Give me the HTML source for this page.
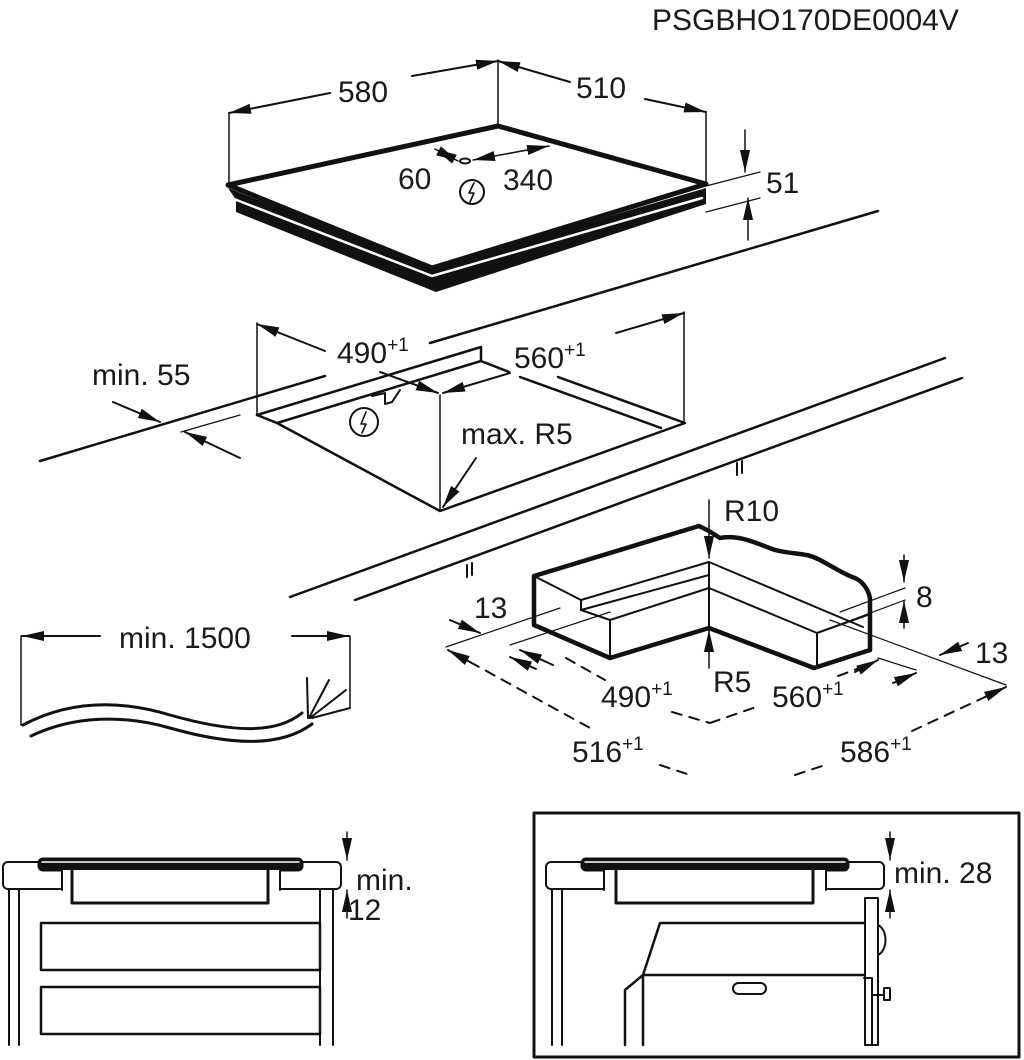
<!DOCTYPE html>
<html><head><meta charset="utf-8"><style>
html,body{margin:0;padding:0;background:#fff;}
svg{display:block}
text{font-family:"Liberation Sans",sans-serif;fill:#1a1a1a;font-size:30px;}
</style></head><body>
<svg width="1024" height="1060" viewBox="0 0 1024 1060" xmlns="http://www.w3.org/2000/svg">
<defs>
<marker id="a" viewBox="0 0 10 10" refX="10" refY="5" markerWidth="22" markerHeight="22" markerUnits="userSpaceOnUse" orient="auto-start-reverse"><path d="M0,2.7 L10,5 L0,7.3z" fill="#111"/></marker>
</defs>
<g stroke="#111" fill="none" stroke-linecap="round" stroke-linejoin="round">
<text x="652" y="30" stroke="none" font-size="31">PSGBHO170DE0004V</text>

<!-- top hob -->
<line x1="229" y1="113" x2="229" y2="187" stroke-width="1.5"/>
<line x1="498" y1="60" x2="498" y2="125" stroke-width="1.5"/>
<line x1="706" y1="112" x2="706" y2="185" stroke-width="1.5"/>
<line x1="330" y1="93" x2="229" y2="113" stroke-width="2" marker-end="url(#a)"/>
<line x1="412" y1="76" x2="498" y2="61" stroke-width="2" marker-end="url(#a)"/>
<line x1="570" y1="82" x2="498" y2="61" stroke-width="2" marker-end="url(#a)"/>
<line x1="645" y1="99" x2="706" y2="112" stroke-width="2" marker-end="url(#a)"/>
<text x="338" y="102" stroke="none">580</text>
<text x="576" y="98" stroke="none">510</text>
<path d="M228,188 L432,268 L706,188 L706,204 L436,292 L236,212 L236,200z" fill="#111" stroke="none"/>
<path d="M234,199 L432,276 L702,198" stroke="#fff" stroke-width="2.5"/>
<path d="M228,185 L498,126 L706,184 L432,268z" fill="#fff" stroke-width="5"/>
<line x1="435" y1="149" x2="458" y2="161" stroke-width="1.5" marker-start="url(#a)" marker-end="url(#a)"/>
<ellipse cx="465" cy="161" rx="5" ry="2.5" stroke-width="2"/>
<line x1="473" y1="160" x2="549" y2="146" stroke-width="1.5" marker-start="url(#a)" marker-end="url(#a)"/>
<text x="398" y="189" stroke="none">60</text>
<text x="503" y="190" stroke="none">340</text>
<circle cx="472" cy="192" r="12" stroke-width="2"/>
<path d="M474,183 L469,193 L474,193 L470,202" stroke-width="1.6"/>
<line x1="745" y1="130" x2="745" y2="172" stroke-width="1.5" marker-end="url(#a)"/>
<line x1="748" y1="240" x2="748" y2="198" stroke-width="1.5" marker-end="url(#a)"/>
<line x1="706" y1="186" x2="760" y2="172" stroke-width="1.2"/>
<line x1="706" y1="212" x2="760" y2="198" stroke-width="1.2"/>
<text x="766" y="193" stroke="none">51</text>

<!-- countertop lines -->
<line x1="40" y1="461" x2="325" y2="376" stroke-width="2.5"/>
<line x1="430" y1="343" x2="878" y2="211" stroke-width="2.5"/>
<line x1="290" y1="597" x2="945" y2="358" stroke-width="2.5"/>
<line x1="355" y1="600" x2="962" y2="378" stroke-width="2.5"/>
<line x1="737" y1="463" x2="737" y2="475" stroke-width="2"/><line x1="742" y1="461" x2="742" y2="473" stroke-width="2"/>
<line x1="467" y1="565" x2="467" y2="577" stroke-width="2"/><line x1="472" y1="563" x2="472" y2="575" stroke-width="2"/>
<!-- cutout -->
<line x1="257" y1="323" x2="257" y2="415" stroke-width="1.5"/>
<line x1="684" y1="312" x2="684" y2="423" stroke-width="1.5"/>
<path d="M257,415 L481,347 L481,361 L509,372" stroke-width="2.5"/>
<path d="M257,415 L277,423 L481,361" stroke-width="2.5"/>
<path d="M277,423 L440,511 L685,423 L558,377" stroke-width="2.5"/>
<path d="M520,377 L661,428" stroke-width="2.5"/>
<line x1="440" y1="395" x2="440" y2="511" stroke-width="1.5"/>
<path d="M372,396 L385,393 L385,404 L392,402 L400,390" stroke-width="2"/>
<circle cx="364" cy="422" r="14" stroke-width="2"/>
<path d="M366,412 L361,424 L366,424 L362,433" stroke-width="1.6"/>
<line x1="325" y1="351" x2="257" y2="324" stroke-width="2" marker-end="url(#a)"/>
<line x1="380" y1="372" x2="438" y2="393" stroke-width="2" marker-end="url(#a)"/>
<line x1="510" y1="373" x2="443" y2="393" stroke-width="2" marker-end="url(#a)"/>
<line x1="616" y1="333" x2="684" y2="313" stroke-width="2" marker-end="url(#a)"/>
<text x="337" y="363" stroke="none">490<tspan font-size="19" dy="-12">+1</tspan></text>
<text x="514" y="368" stroke="none">560<tspan font-size="19" dy="-12">+1</tspan></text>
<text x="92" y="385" stroke="none">min. 55</text>
<line x1="113" y1="402" x2="160" y2="422" stroke-width="2" marker-end="url(#a)"/>
<line x1="240" y1="458" x2="185" y2="432" stroke-width="2" marker-end="url(#a)"/>
<line x1="181" y1="432" x2="240" y2="415" stroke-width="1.2"/>
<text x="461" y="444" stroke="none">max. R5</text>
<line x1="476" y1="458" x2="443" y2="507" stroke-width="2" marker-end="url(#a)"/>

<!-- cable -->
<line x1="21" y1="636" x2="21" y2="725" stroke-width="1.5"/>
<line x1="350" y1="636" x2="350" y2="708" stroke-width="1.5"/>
<line x1="100" y1="636" x2="22" y2="636" stroke-width="2" marker-end="url(#a)"/>
<line x1="292" y1="636" x2="349" y2="636" stroke-width="2" marker-end="url(#a)"/>
<text x="119" y="648" stroke="none">min. 1500</text>
<path d="M23,725 C70,700 120,700 170,715 C230,732 275,735 302,713" stroke-width="3"/>
<path d="M31,736 C75,715 125,715 170,728 C230,745 280,748 312,724" stroke-width="3"/>
<path d="M308,718 L307,678 M309,718 L329,680 M310,718 L346,690 M312,718 L350,708" stroke-width="2"/>

<!-- block sample -->
<path d="M534,576 L699,526 L709,531 L720,538 C740,534 760,545 775,550 C795,555 805,552 820,560 C835,568 845,575 855,578 C866,583 870,595 870,600 L870,650 L814,668 L709,628 L610,658 L534,625z" fill="#fff" stroke-width="4.5"/>
<path d="M534,576 L581,600 L709,562 L863,627" stroke-width="2"/>
<path d="M581,600 L581,610 L610,620 L709,588 L817,633 L870,614" stroke-width="2"/>
<path d="M581,610 L709,575" stroke-width="2"/>
<line x1="610" y1="620" x2="610" y2="658" stroke-width="2"/>
<line x1="817" y1="633" x2="817" y2="668" stroke-width="2"/>
<line x1="709" y1="562" x2="709" y2="628" stroke-width="2"/>
<line x1="709" y1="500" x2="709" y2="558" stroke-width="1.5" marker-end="url(#a)"/>
<line x1="709" y1="668" x2="709" y2="630" stroke-width="1.5" marker-end="url(#a)"/>
<text x="724" y="521" stroke="none">R10</text>
<text x="713" y="692" stroke="none">R5</text>
<line x1="904" y1="555" x2="904" y2="582" stroke-width="1.5" marker-end="url(#a)"/>
<line x1="904" y1="628" x2="904" y2="601" stroke-width="1.5" marker-end="url(#a)"/>
<line x1="840" y1="612" x2="905" y2="588" stroke-width="1.2"/>
<line x1="817" y1="633" x2="905" y2="600" stroke-width="1.2"/>
<text x="916" y="607" stroke="none">8</text>
<line x1="446" y1="647" x2="560" y2="608" stroke-width="1.2"/>
<line x1="510" y1="645" x2="610" y2="612" stroke-width="1.2"/>
<line x1="830" y1="620" x2="1006" y2="685" stroke-width="1.2"/>
<line x1="878" y1="658" x2="916" y2="670" stroke-width="1.2"/>
<line x1="450" y1="620" x2="480" y2="633" stroke-width="2" marker-end="url(#a)"/>
<text x="474" y="618" stroke="none">13</text>
<line x1="968" y1="643" x2="940" y2="655" stroke-width="2" marker-end="url(#a)"/>
<text x="975" y="663" stroke="none">13</text>
<text x="601" y="707" stroke="none">490<tspan font-size="19" dy="-12">+1</tspan></text>
<text x="772" y="707" stroke="none">560<tspan font-size="19" dy="-12">+1</tspan></text>
<text x="572" y="762" stroke="none">516<tspan font-size="19" dy="-12">+1</tspan></text>
<text x="840" y="762" stroke="none">586<tspan font-size="19" dy="-12">+1</tspan></text>
<g stroke-width="2" stroke-dasharray="10,8">
<line x1="566" y1="658" x2="605" y2="680"/>
<line x1="672" y1="712" x2="710" y2="723"/>
<line x1="710" y1="723" x2="756" y2="707"/>
<line x1="838" y1="676" x2="865" y2="666"/>
<line x1="470" y1="662" x2="590" y2="728"/>
<line x1="660" y1="765" x2="690" y2="775"/>
<line x1="795" y1="775" x2="825" y2="765"/>
<line x1="912" y1="731" x2="985" y2="697"/>
</g>
<line x1="553" y1="665" x2="520" y2="650" stroke-width="2" marker-end="url(#a)"/>
<line x1="536" y1="669" x2="510" y2="657" stroke-width="2" marker-end="url(#a)"/>
<line x1="470" y1="662" x2="448" y2="650" stroke-width="2" marker-end="url(#a)"/>
<line x1="855" y1="672" x2="878" y2="660" stroke-width="2" marker-end="url(#a)"/>
<line x1="893" y1="683" x2="916" y2="673" stroke-width="2" marker-end="url(#a)"/>
<line x1="985" y1="697" x2="1006" y2="687" stroke-width="2" marker-end="url(#a)"/>

<!-- bottom left cabinet -->
<rect x="3" y="862" width="338" height="27" rx="5" stroke-width="2"/>
<rect x="38" y="858" width="265" height="13" rx="5" fill="#111" stroke-width="1"/>
<line x1="42" y1="862" x2="299" y2="862" stroke="#fff" stroke-width="1.5"/>
<rect x="62" y="870" width="218" height="20" fill="#fff" stroke="none"/>
<path d="M62,870 L62,890 M280,870 L280,890" stroke-width="2"/>
<path d="M72,871 L72,903 L268,903 L268,871" stroke-width="3"/>
<path d="M9,890 L9,1045 M19,890 L19,1045 M320,890 L320,1045 M333,890 L333,1045" stroke-width="2"/>
<rect x="41" y="923" width="279" height="47" stroke-width="2.5"/>
<rect x="41" y="987" width="279" height="47" stroke-width="2.5"/>
<line x1="347" y1="832" x2="347" y2="860" stroke-width="1.5" marker-end="url(#a)"/>
<line x1="347" y1="918" x2="347" y2="890" stroke-width="1.5" marker-end="url(#a)"/>
<text x="356" y="890" stroke="none">min.</text>
<text x="348" y="920" stroke="none">12</text>

<!-- bottom right -->
<rect x="534" y="813" width="485" height="244" stroke-width="3"/>
<rect x="546" y="862" width="338" height="27" rx="5" stroke-width="2"/>
<rect x="581" y="858" width="268" height="13" rx="5" fill="#111" stroke-width="1"/>
<line x1="585" y1="862" x2="845" y2="862" stroke="#fff" stroke-width="1.5"/>
<rect x="604" y="870" width="222" height="20" fill="#fff" stroke="none"/>
<path d="M604,870 L604,890 M826,870 L826,890" stroke-width="2"/>
<path d="M616,871 L616,903 L813,903 L813,871" stroke-width="3"/>
<path d="M552,890 L552,1045 M562,890 L562,1045" stroke-width="2"/>
<path d="M870,898 L878,898 L878,1045 L865,1045 L865,898z" stroke-width="2"/>
<path d="M878,925 C888,930 888,950 878,955" stroke-width="2"/>
<path d="M643,975 L660,923 L864,923" stroke-width="2.5"/>
<path d="M643,975 L864,975 M643,975 L643,1045 M625,1045 L625,990 L643,975" stroke-width="2.5"/>
<rect x="733" y="983" width="33" height="11" rx="5.5" stroke-width="2"/>
<path d="M864,978 L872,978 L872,1045" stroke-width="2"/>
<path d="M872,995 L884,995 M884,988 L884,1000 L890,1000 L890,988z" stroke-width="2"/>
<line x1="890" y1="832" x2="890" y2="860" stroke-width="1.5" marker-end="url(#a)"/>
<line x1="890" y1="918" x2="890" y2="890" stroke-width="1.5" marker-end="url(#a)"/>
<text x="894" y="883" stroke="none">min. 28</text>
</g>
</svg>
</body></html>
